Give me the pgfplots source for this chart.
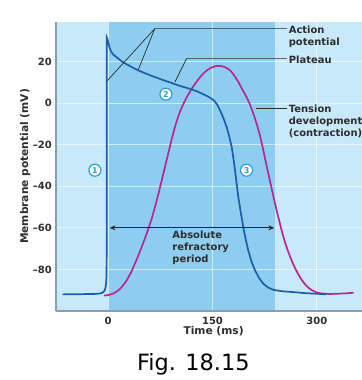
\documentclass[border=0pt]{standalone}
\usepackage{pgfplots}
\pgfplotsset{compat=1.18}
\usepackage{fontspec}
\setmainfont{DejaVu Sans}
\usetikzlibrary{arrows.meta}
\definecolor{lightbg}{RGB}{200,233,249}
\definecolor{darkbg}{RGB}{141,206,240}
\definecolor{apblue}{RGB}{29,93,170}
\definecolor{tenmag}{RGB}{184,40,143}
\definecolor{circ}{RGB}{42,159,214}
\definecolor{axgray}{RGB}{142,158,168}
\definecolor{txt}{RGB}{45,45,45}
\newcommand{\lblfont}{\fontsize{10}{12}\selectfont\bfseries}
\newcommand{\axlblfont}{\fontsize{10.7}{13}\selectfont\bfseries}
\tikzset{lbl/.style={anchor=base west, inner sep=0pt, text=txt, font=\lblfont},
  num/.style={circle, draw=circ, fill=white, line width=1.2bp, inner sep=0pt,
  minimum size=12bp, text=circ, font=\fontsize{8}{8}\selectfont\bfseries}}
\begin{document}
\begin{tikzpicture}
\begin{axis}[
  set layers,
  scale only axis,
  width=306bp, height=289bp,
  at={(56bp,69bp)}, anchor=south west,
  xmin=-75, xmax=365, ymin=-100, ymax=39,
  axis x line*=bottom, axis y line*=left,
  axis line style={axgray, line width=2.2bp},
  axis background/.style={fill=lightbg},
  /pgf/number format/assume math mode=true,
  xtick={0,150,300}, ytick={-80,-60,-40,-20,0,20},
  xticklabels={0,150,300},
  yticklabels={\textendash80,\textendash60,\textendash40,\textendash20,0,20},
  major tick length=0,
  grid=major, major grid style={white, opacity=0.6, line width=1.1bp},
  yticklabel style={font=\lblfont, text=txt, inner sep=0pt, anchor=east, xshift=-4bp},
  xticklabel style={font=\lblfont, text=txt, inner sep=0pt, anchor=north, yshift=-5.5bp},
  xlabel={Time (ms)}, ylabel={Membrane potential (mV)},
  every axis x label/.style={at={(axis description cs:0.515,-0.071)}, anchor=center, font=\axlblfont, text=txt},
  every axis y label/.style={at={(axis description cs:-0.101,0.5)}, anchor=center, rotate=90, font=\axlblfont, text=txt},
]
% darker band (0 to 240 ms)
\begin{pgfonlayer}{axis background}
\fill[darkbg] (axis cs:0,-100) rectangle (axis cs:240,39);
\end{pgfonlayer}

% tension development (contraction)
\addplot[tenmag, line width=1.7bp, smooth] coordinates {
 (-6,-92.6) (2,-92.2) (8,-91.5) (14,-90.2) (20,-88.3) (26,-85.6) (32,-82) (38,-77.6)
 (44,-72.8) (50,-67.6) (56,-62.2) (62,-56.2) (67,-50.4) (72,-44) (77,-37.2) (82,-30.3)
 (87,-23.4) (92,-16.6) (97,-10.4) (102,-5.3) (108,-0.5) (115,4) (122,7.8) (129,11.1)
 (136,13.9) (143,16) (150,17.3) (157,17.9) (163,17.8) (169,17.1) (175,15.8) (181,13.4)
 (187,10.3) (192,7.2) (197,4.1) (202,0.8) (207,-3.4) (212,-8.3) (217,-14) (222,-21)
 (227,-28.8) (232,-36.4) (237,-44) (242,-51.2) (247,-58) (252,-64.4) (258,-70.6)
 (264,-75.8) (270,-80.2) (276,-83.8) (282,-86.7) (288,-88.8) (294,-90.2) (300,-91.1)
 (308,-91.6) (318,-91.8) (330,-91.7) (342,-91.5) (353,-91.2)};

% action potential
\addplot[apblue, line width=1.7bp] coordinates {
 (-65.5,-92) (-40,-91.9) (-20,-91.8) (-12,-91.6) (-9.5,-91.4) (-7,-90.9) (-5,-90.1)
 (-3.8,-88.8) (-2.8,-86) (-2.3,-82) (-2.1,-70) (-2,-40) (-2,0) (-2,31.6)
 (-1.3,31) (-0.5,30) (0.5,28.7) (1.5,27.4) (2.5,26.2) (4,25) (6,23.9) (9,22.9)
 (12.5,22) (16.8,20.8) (22,19.5) (28,18.4) (34,17.3) (40,16.3) (45.6,15.4)
 (52,14.5) (58,13.7) (64,12.9) (70,12.2) (77,11.3) (84,10.5) (93.6,9.4)
 (101,8.5) (108,7.8) (115,7.1) (122.4,6.3) (128,5.6) (132,5.0) (137,4.2)
 (141.6,3.5) (146.4,2.6) (150,1.8) (153.6,0.7) (157,-0.9) (160.8,-3.4)
 (164,-5.8) (167,-8.4) (170.4,-11.5) (172.5,-14) (175,-17.3) (177.6,-21.1)
 (180,-26.3) (182.4,-32.3) (184.8,-38.8) (187.1,-45.2) (190.5,-52.2) (194.3,-59.6)
 (197.8,-65.6) (201.5,-70.9) (206,-76.1) (211.2,-80.5) (217,-84.1) (223.1,-86.9)
 (230,-88.7) (237.5,-89.8) (250,-90.5) (266.3,-90.9) (283,-91.4) (300,-91.7)
 (314,-92)};

% leader lines
\draw[txt, line width=0.7bp] (axis cs:257,35.8) -- (axis cs:67,35.8) -- (axis cs:-2,10.5);
\draw[txt, line width=0.7bp] (axis cs:67,35.8) -- (axis cs:43.5,16.2);
\draw[txt, line width=0.7bp] (axis cs:257,21.5) -- (axis cs:112.9,21.5) -- (axis cs:96,10.2);
\draw[txt, line width=0.7bp] (axis cs:212.2,-2.6) -- (axis cs:257,-2.6);

% labels
\node[lbl] at (axis cs:259.5,33.4) {Action};
\node[lbl] at (axis cs:259.5,27.9) {potential};
\node[lbl] at (axis cs:259.5,19.2) {Plateau};
\node[lbl] at (axis cs:259.5,-4.5) {Tension};
\node[lbl] at (axis cs:259.5,-10.2) {development};
\node[lbl] at (axis cs:259.5,-15.9) {(contraction)};

% refractory period arrow
\draw[{Stealth[length=6bp,width=5bp]}-{Stealth[length=6bp,width=5bp]}, black!85, line width=0.9bp]
  (axis cs:2,-60) -- (axis cs:239,-60);
\node[lbl] at (axis cs:92.1,-65.2) {Absolute};
\node[lbl] at (axis cs:92.1,-70.8) {refractory};
\node[lbl] at (axis cs:92.1,-76.5) {period};

% circled numbers
\node[num] at (axis cs:-19,-32.3) {1};
\node[num] at (axis cs:83,4.3) {2};
\node[num] at (axis cs:199,-32.3) {3};
\end{axis}
\node[anchor=base, inner sep=0pt, font=\fontsize{22.5}{24}\selectfont] at (193.3bp,9.5bp) {Fig. 18.15};
\pgfresetboundingbox
\path[use as bounding box] (0,0) rectangle (362bp,380bp);
\end{tikzpicture}
\end{document}
